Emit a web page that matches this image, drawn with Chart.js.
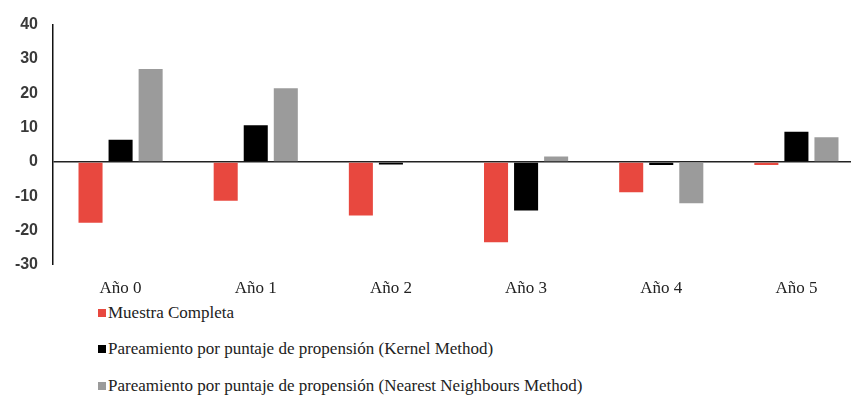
<!DOCTYPE html>
<html>
<head>
<meta charset="utf-8">
<script src="https://cdn.jsdelivr.net/npm/chart.js@4/dist/chart.umd.min.js"></script>
<style>
  html, body { margin: 0; padding: 0; background: #fff; overflow: hidden; width: 851px; height: 395px; }
  #wrap { position: absolute; left: 0; top: 0; width: 866px; height: 300px; }
  #legend { position: absolute; left: 98px; top: 0; font-family: "Liberation Serif", "Times New Roman", serif; font-size: 17px; color: #222; }
  .item { position: absolute; left: 0; white-space: nowrap; display: flex; align-items: center; }
  .sw { width: 8px; height: 8px; margin-right: 2px; display: inline-block; }
</style>
</head>
<body>
<div id="wrap"><canvas id="chart"></canvas></div>
<div id="legend"></div>
<script>
// Categories and series values
const categories = ["Año 0", "Año 1", "Año 2", "Año 3", "Año 4", "Año 5"];
const muestraCompleta = [-17.7, -11.3, -15.6, -23.4, -8.8, -0.9];
const kernelMethod = [6.5, 10.7, -0.7, -14.1, -0.9, 8.8];
const nearestNeighbours = [27.1, 21.5, 0, 1.6, -12.0, 7.2];
const seriesNames = [
  "Muestra Completa",
  "Pareamiento por puntaje de propensión (Kernel Method)",
  "Pareamiento por puntaje de propensión (Nearest Neighbours Method)"
];
const yTicks = [40, 30, 20, 10, 0, -10, -20, -30];

const colors = ["#E8483F", "#000000", "#9B9B9B"];

const chart = new Chart(document.getElementById("chart"), {
  type: "bar",
  data: {
    labels: categories,
    datasets: [muestraCompleta, kernelMethod, nearestNeighbours].map((d, i) => ({
      label: seriesNames[i],
      data: d,
      backgroundColor: colors[i],
      borderWidth: 0,
      categoryPercentage: 0.667,
      barPercentage: 0.8
    }))
  },
  options: {
    responsive: true,
    maintainAspectRatio: false,
    animation: false,
    layout: { padding: { top: 21, right: 2, left: 0, bottom: 0 } },
    plugins: { legend: { display: false }, tooltip: { enabled: false } },
    scales: {
      x: {
        grid: { display: false, drawTicks: false },
        border: { display: false },
        ticks: {
          padding: 13,
          color: "#222",
          font: { family: "'Liberation Serif', 'Times New Roman', serif", size: 17 }
        },
        afterFit: (s) => { s.height = 35; }
      },
      y: {
        min: -30,
        max: 40,
        afterBuildTicks: (s) => { s.ticks = yTicks.map(v => ({ value: v })); },
        grid: {
          drawTicks: false,
          color: (c) => (c.tick && c.tick.value === 0 ? "#222" : "rgba(0,0,0,0)"),
          lineWidth: (c) => (c.tick && c.tick.value === 0 ? 1.5 : 0)
        },
        border: { display: true, color: "#111", width: 1.5 },
        ticks: {
          padding: 15,
          color: "#3a3a3a",
          font: { family: "'Liberation Sans', Arial, sans-serif", size: 16, weight: "bold" }
        },
        afterFit: (s) => { s.width = 53; }
      }
    }
  }
});

// Vertical legend below the plot
const legend = document.getElementById("legend");
const rowY = [313, 349, 386];
chart.data.datasets.forEach((ds, i) => {
  const item = document.createElement("div");
  item.className = "item";
  item.style.top = (rowY[i] - 10) + "px";
  item.style.height = "20px";
  const sw = document.createElement("span");
  sw.className = "sw";
  sw.style.background = ds.backgroundColor;
  const txt = document.createElement("span");
  txt.textContent = ds.label;
  item.appendChild(sw);
  item.appendChild(txt);
  legend.appendChild(item);
});
</script>
</body>
</html>
